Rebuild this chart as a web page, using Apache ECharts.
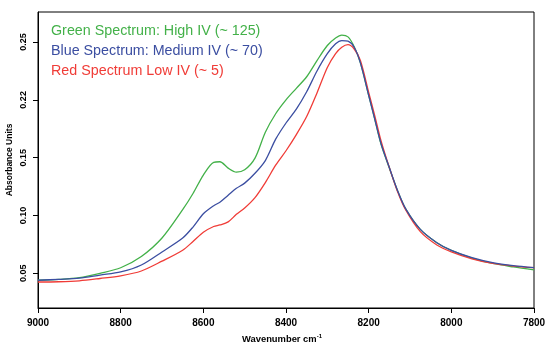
<!DOCTYPE html>
<html>
<head>
<meta charset="utf-8">
<script src="https://cdn.jsdelivr.net/npm/echarts@6.0.0/dist/echarts.min.js"></script>
<style>
  html, body { margin: 0; padding: 0; background: #fff; }
  #chart { width: 550px; height: 350px; }
</style>
</head>
<body>
<div id="chart"></div>
<script>
// wavenumbers (cm-1) and absorbance
const wavenumbers = [9000, 8950, 8900, 8850, 8800, 8750, 8700, 8650, 8625, 8600, 8575, 8560, 8540, 8520, 8500,
  8475, 8450, 8425, 8400, 8375, 8350, 8325, 8300, 8280, 8265, 8250, 8235, 8220, 8200, 8185, 8170, 8150, 8130,
  8110, 8075, 8035, 8000, 7950, 7900, 7850, 7800];

const greenHigh = [0.0440, 0.0447, 0.0462, 0.0500, 0.0548, 0.0645, 0.0805, 0.1050, 0.1190, 0.1350, 0.1460, 0.1465,
  0.1410, 0.1375, 0.1395, 0.1496, 0.1720, 0.1880, 0.2000, 0.2100, 0.2200, 0.2340, 0.2470, 0.2535, 0.2560, 0.2545,
  0.2460, 0.2320, 0.2040, 0.1830, 0.1615, 0.1410, 0.1215, 0.1055, 0.0880, 0.0765, 0.0698, 0.0632, 0.0585, 0.0555, 0.0530];

const blueMedium = [0.0440, 0.0448, 0.0458, 0.0485, 0.0512, 0.0572, 0.0685, 0.0805, 0.0900, 0.1015, 0.1085, 0.1115,
  0.1175, 0.1235, 0.1280, 0.1365, 0.1475, 0.1660, 0.1800, 0.1920, 0.2070, 0.2250, 0.2400, 0.2485, 0.2513, 0.2508,
  0.2455, 0.2320, 0.2040, 0.1830, 0.1620, 0.1415, 0.1215, 0.1055, 0.0880, 0.0765, 0.0698, 0.0635, 0.0592, 0.0566, 0.0549];

const redLow = [0.0425, 0.0427, 0.0435, 0.0455, 0.0478, 0.0520, 0.0605, 0.0700, 0.0775, 0.0855, 0.0905, 0.0918,
  0.0945, 0.1010, 0.1065, 0.1155, 0.1285, 0.1435, 0.1560, 0.1700, 0.1856, 0.2060, 0.2280, 0.2400, 0.2455, 0.2477,
  0.2440, 0.2340, 0.2065, 0.1860, 0.1645, 0.1415, 0.1205, 0.1045, 0.0860, 0.0745, 0.0685, 0.0625, 0.0585, 0.0563, 0.0549];

const yTickValues = [0.05, 0.10, 0.15, 0.20, 0.25];
const yTickLabels = ['0.05', '0.10', '0.15', '0.22', '0.25'];

const names = ['Green Spectrum: High IV (~ 125)', 'Blue Spectrum: Medium IV (~ 70)', 'Red Spectrum Low IV (~ 5)'];
const colors = ['#43b149', '#3b4ea1', '#f03c37'];

const pairs = (vals) => wavenumbers.map((w, i) => [w, vals[i]]);

const chart = echarts.init(document.getElementById('chart'));

const lineSeries = (name, vals, color) => ({
  name: name,
  type: 'line',
  data: pairs(vals),
  smooth: 0.3,
  showSymbol: false,
  lineStyle: { color: color, width: 1.3 },
  itemStyle: { color: color },
});

chart.setOption({
  animation: false,
  textStyle: { fontFamily: 'Liberation Sans, Arial, sans-serif' },
  grid: {
    left: 38, right: 16, top: 12, bottom: 42,
    outerBoundsMode: 'none',
    containLabel: false,
    show: true, borderColor: '#000', borderWidth: 1,
  },
  legend: {
    orient: 'vertical',
    left: 46,
    top: 24.5,
    padding: 0,
    icon: 'none',
    itemWidth: 0,
    itemHeight: 14,
    itemGap: 6,
    selectedMode: false,
    textStyle: { fontSize: 14.3 },
    data: names.map((n, i) => ({ name: n, textStyle: { color: colors[i] } })),
  },
  xAxis: {
    type: 'value',
    inverse: true,
    min: 7800,
    max: 9000,
    interval: 200,
    splitLine: { show: false },
    axisLine: { show: true, lineStyle: { color: '#000', width: 1 } },
    axisTick: { show: true, length: 5, lineStyle: { color: '#000' } },
    axisLabel: { color: '#000', fontWeight: 'bold', fontSize: 10, margin: 10, formatter: (v) => String(v) },
    name: 'Wavenumber cm{sup|-1}',
    nameLocation: 'middle',
    nameGap: 25.5,
    nameTextStyle: {
      color: '#000', fontWeight: 'bold', fontSize: 9.4, padding: [0, 8, 0, 0],
      rich: { sup: { fontSize: 6, fontWeight: 'bold', color: '#000', verticalAlign: 'top', padding: [0, 0, 5, 0] } },
    },
  },
  yAxis: {
    type: 'value',
    min: 0.02,
    max: 0.276,
    splitLine: { show: false },
    axisLine: { show: true, lineStyle: { color: '#000', width: 1 } },
    axisTick: { show: true, length: 5, customValues: yTickValues, lineStyle: { color: '#000' } },
    axisLabel: {
      color: '#000', fontWeight: 'bold', fontSize: 9, rotate: 90, margin: 10,
      customValues: yTickValues,
      formatter: (v) => {
        const i = yTickValues.findIndex((t) => Math.abs(t - v) < 1e-6);
        return i >= 0 ? yTickLabels[i] : '';
      },
    },
    name: 'Absorbance Units',
    nameLocation: 'middle',
    nameGap: 23.5,
    nameMoveOverlap: false,
    nameRotate: 90,
    nameTextStyle: { color: '#000', fontWeight: 'bold', fontSize: 8.5 },
  },
  series: [
    lineSeries(names[0], greenHigh, colors[0]),
    lineSeries(names[2], redLow, colors[2]),
    lineSeries(names[1], blueMedium, colors[1]),
  ],
});
</script>
</body>
</html>
